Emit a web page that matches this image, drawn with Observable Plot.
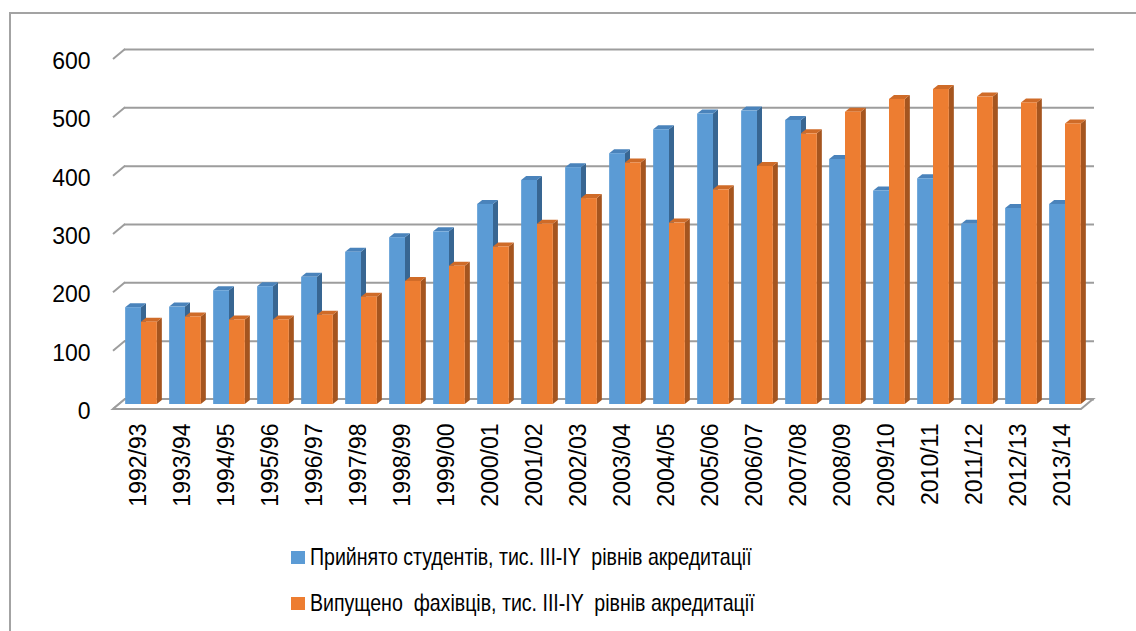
<!DOCTYPE html>
<html>
<head>
<meta charset="utf-8">
<script src="https://cdn.jsdelivr.net/npm/d3@7"></script>
<script src="https://cdn.jsdelivr.net/npm/@observablehq/plot@0.6"></script>
<style>
  html, body { margin: 0; padding: 0; background: #fff; overflow: hidden; }
  #wrap { position: relative; width: 1136px; height: 631px; overflow: hidden; }
  #frame { position: absolute; left: 9px; top: 12px; width: 1300px; height: 800px; border: 2px solid #a3a3a3; box-sizing: border-box; }
  #chart { position: absolute; left: 0; top: 0; }
  .leg { position: absolute; left: 291px; font-family: 'Liberation Sans', Arial, sans-serif; font-size: 24px; color: #000; white-space: pre; line-height: 1; }
  .leg .sw { position: absolute; left: 0; width: 14px; height: 13px; }
  .leg .tx { position: absolute; left: 19px; top: 0; transform: scaleX(0.815); transform-origin: 0 50%; }
</style>
</head>
<body>
<div id="wrap">
  <div id="frame"></div>
  <div id="chart"></div>
  <div id="legend"></div>
</div>
<script>
const categories = ["1992/93","1993/94","1994/95","1995/96","1996/97","1997/98","1998/99","1999/00","2000/01","2001/02","2002/03","2003/04","2004/05","2005/06","2006/07","2007/08","2008/09","2009/10","2010/11","2011/12","2012/13","2013/14"];
const admitted  = [166,167,195,202,218,261,286,296,343,384,406,430,471,498,503,487,420,366,387,309,336,343];
const graduated = [141,150,145,145,153,184,211,237,270,309,353,414,311,368,408,464,501,523,540,527,517,481];
const yTicks = [0,100,200,300,400,500,600];
const seriesNames = ["Прийнято студентів, тис. ІІІ-ІY  рівнів акредитації", "Випущено  фахівців, тис. ІІІ-ІY  рівнів акредитації"];
const seriesColors = [
  {front: "#5b9bd5", top: "#4a83bb", side: "#386692"},
  {front: "#ed7d31", top: "#cf6b28", side: "#a5551f"}
];

const FONT = "'Liberation Sans', Arial, sans-serif";
const DEPTH = {dx: -12, dy: 10};
const BAR = {dx: 5, dy: -4};

function scene(index, scales, values, dim) {
  const x = scales.x, y = scales.y;
  const g = d3.create("svg:g");
  const step = x(categories[1]) - x(categories[0]);
  const x0 = x(categories[0]), x1 = x(categories[categories.length - 1]) + step;
  for (const t of yTicks) {
    g.append("line")
      .attr("x1", x0).attr("y1", y(t))
      .attr("x2", x0 + DEPTH.dx).attr("y2", y(t) + DEPTH.dy)
      .attr("stroke", "#9d9d9d").attr("stroke-width", 2);
  }
  g.append("polygon")
    .attr("points", [[x0, y(0)], [x1, y(0)], [x1 + DEPTH.dx, y(0) + DEPTH.dy], [x0 + DEPTH.dx, y(0) + DEPTH.dy]].map(p => p.join(",")).join(" "))
    .attr("fill", "#fff").attr("stroke", "#9d9d9d").attr("stroke-width", 2);
  const ox = DEPTH.dx / 2, oy = DEPTH.dy / 2;
  const bw = step * 0.36;
  const pad = (step - 2 * bw) / 2;
  categories.forEach((c, i) => {
    [admitted[i], graduated[i]].forEach((v, s) => {
      const col = seriesColors[s];
      const xl = x(c) + pad + s * bw + ox;
      const xr = xl + bw;
      const yt = y(v) + oy;
      const yb = y(0) + oy;
      g.append("polygon")
        .attr("points", [[xr, yt], [xr + BAR.dx, yt + BAR.dy], [xr + BAR.dx, yb + BAR.dy], [xr, yb]].map(p => p.join(",")).join(" "))
        .attr("fill", col.side);
      g.append("polygon")
        .attr("points", [[xl, yt], [xr, yt], [xr + BAR.dx, yt + BAR.dy], [xl + BAR.dx, yt + BAR.dy]].map(p => p.join(",")).join(" "))
        .attr("fill", col.top);
      g.append("rect")
        .attr("x", xl).attr("y", yt).attr("width", bw).attr("height", yb - yt)
        .attr("fill", col.front);
    });
  });
  return g.node();
}

const chart = Plot.plot({
  width: 1136,
  height: 525,
  marginLeft: 124,
  marginRight: 42,
  marginTop: 49,
  marginBottom: 126,
  style: {fontFamily: FONT, background: "transparent", overflow: "visible"},
  x: {type: "band", domain: categories, padding: 0},
  y: {domain: [0, 600]},
  marks: [
    Plot.ruleY(yTicks, {stroke: "#9d9d9d", strokeWidth: 2, strokeOpacity: 1}),
    scene,
    Plot.axisY(yTicks, {tickSize: 0, tickPadding: 34, dy: 12, fontSize: 23, fill: "#000", fontFamily: FONT, label: null}),
    Plot.axisX({tickSize: 0, tickRotate: -90, tickPadding: 24, dx: -9, fontSize: 23, fill: "#000", fontFamily: FONT, label: null})
  ]
});
document.getElementById("chart").appendChild(chart);

const legend = document.getElementById("legend");
const rowTops = [545, 591];
seriesNames.forEach((name, i) => {
  const row = document.createElement("div");
  row.className = "leg";
  row.style.top = rowTops[i] + "px";
  const sw = document.createElement("div");
  sw.className = "sw";
  sw.style.background = seriesColors[i].front;
  sw.style.top = "6px";
  const tx = document.createElement("div");
  tx.className = "tx";
  tx.textContent = name;
  row.appendChild(sw);
  row.appendChild(tx);
  legend.appendChild(row);
});
</script>
</body>
</html>
